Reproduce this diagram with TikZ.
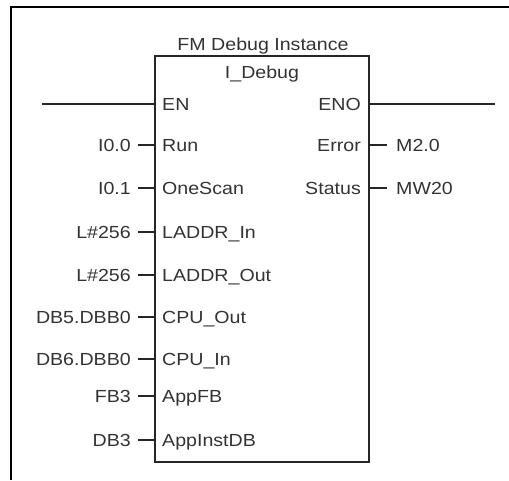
\documentclass[tikz,border=0pt]{standalone}
\usepackage{fontspec}
\setmainfont{Liberation Sans}[FakeStretch=1.12]
\begin{document}
\begin{tikzpicture}[x=1pt,y=-1pt,
  lab/.style={inner sep=0pt, font=\fontsize{17.5}{20}\selectfont, text=black!80},
  wire/.style={line width=1.2pt, black!85},
  block/.style={draw=black!85, line width=1.5pt, inner sep=0pt},
  frame/.style={line width=2pt, black}]
\useasboundingbox (0,0) rectangle (509,480);
% outer frame (only top and left edges fall inside the page)
\coordinate (fbl) at (11,480);
\coordinate (ftl) at (11,6.5);
\coordinate (ftr) at (509,6.5);
\draw[frame] (fbl) -- (ftl) -- (ftr);
% function block
\node[block, minimum width=214pt, minimum height=406pt] (fb) at (262,259) {};
\node[lab, anchor=base] (title) at (263,50) {FM Debug Instance};
\node[lab, anchor=base] (inst) at (262,78) {I\_Debug};
% enable line
\coordinate (enin) at (155,104);
\coordinate (enl) at (42,104);
\node[lab, anchor=base west] (en) at (162,110.2) {EN};
\draw[wire] (enl) -- (enin);
\coordinate (enoout) at (369,104);
\coordinate (enor) at (495,104);
\node[lab, anchor=base east] (eno) at (361,110.2) {ENO};
\draw[wire] (enoout) -- (enor);
% inputs
\foreach \y/\val/\pin [count=\i] in {145/I0.0/Run, 188/I0.1/OneScan,
    232/L\#256/LADDR\_In, 275/L\#256/LADDR\_Out, 317/DB5.DBB0/CPU\_Out,
    359/DB6.DBB0/CPU\_In, 396/FB3/AppFB, 440/DB3/AppInstDB} {
  \coordinate (pl\i) at (155,\y);
  \coordinate (wl\i) at (138,\y);
  \node[lab, anchor=base west] (pn\i) at (162,{\y+6.2}) {\pin};
  \node[lab, anchor=base east] (vl\i) at (131,{\y+6.2}) {\val};
  \draw[wire] (wl\i) -- (pl\i);
}
% outputs
\foreach \y/\val/\pin [count=\i] in {145/M2.0/Error, 188/MW20/Status} {
  \coordinate (pr\i) at (369,\y);
  \coordinate (wr\i) at (387,\y);
  \node[lab, anchor=base east] (po\i) at (361,{\y+6.2}) {\pin};
  \node[lab, anchor=base west] (vo\i) at (396,{\y+6.2}) {\val};
  \draw[wire] (pr\i) -- (wr\i);
}
\end{tikzpicture}
\end{document}
